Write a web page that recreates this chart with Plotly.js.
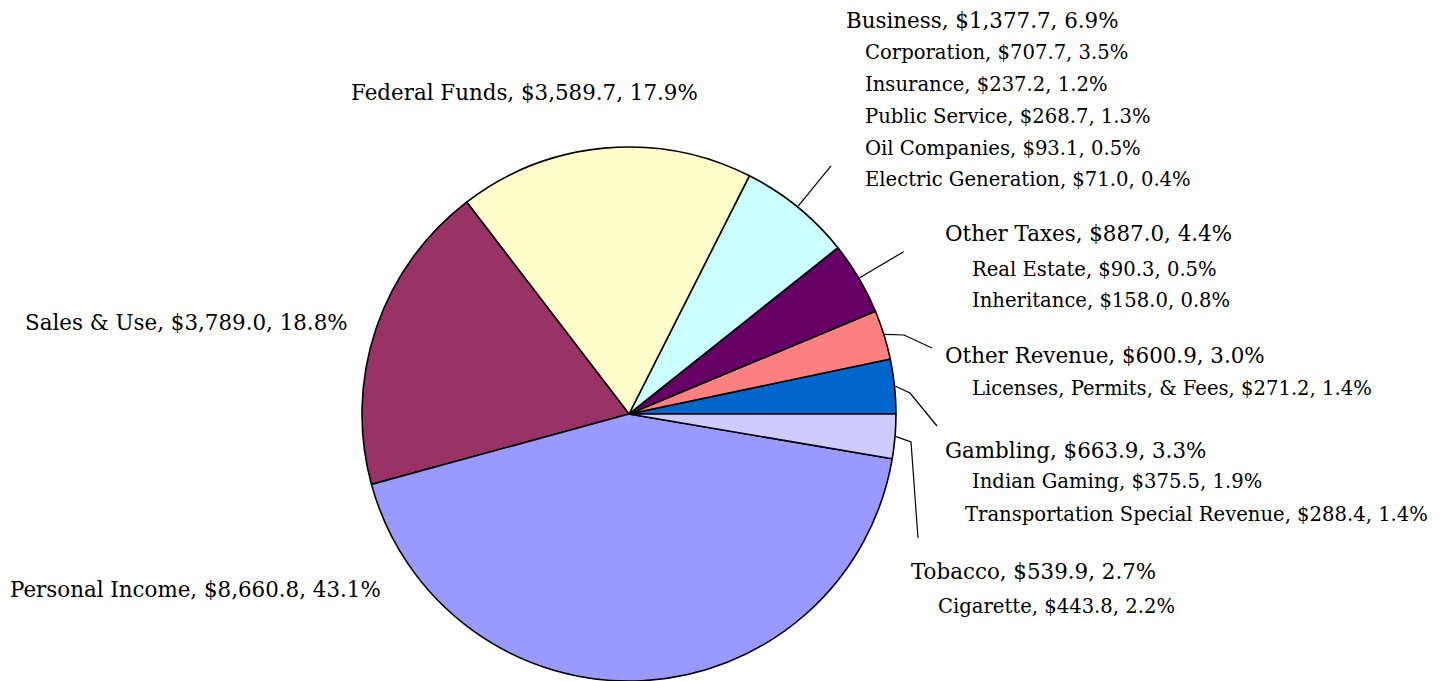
<!DOCTYPE html>
<html>
<head>
<meta charset="utf-8">
<script src="https://cdn.plot.ly/plotly-3.0.1.min.js"></script>
<style>html,body{margin:0;padding:0;background:#fff;}#chart{width:1445px;height:681px;}</style>
</head>
<body>
<div id="chart"></div>
<script>
// ---- data ----
const categories = ['Gambling','Other Revenue','Other Taxes','Business','Federal Funds','Sales & Use','Personal Income','Tobacco'];
const amounts = [663.9, 600.9, 887.0, 1377.7, 3589.7, 3789.0, 8660.8, 539.9];
const percents = ['3.3%','3.0%','4.4%','6.9%','17.9%','18.8%','43.1%','2.7%'];
const sliceColors = ['#0066CC','#FF8080','#660066','#CCFFFF','#FFFFCC','#993366','#9999FF','#CCCCFF'];

const subNames = ['Corporation','Insurance','Public Service','Oil Companies','Electric Generation',
  'Real Estate','Inheritance','Licenses, Permits, & Fees','Indian Gaming','Transportation Special Revenue','Cigarette'];
const subAmounts = [707.7, 237.2, 268.7, 93.1, 71.0, 90.3, 158.0, 271.2, 375.5, 288.4, 443.8];
const subPercents = ['3.5%','1.2%','1.3%','0.5%','0.4%','0.5%','0.8%','1.4%','1.9%','1.4%','2.2%'];

// ---- layout helpers ----
const W = 1445, H = 681;
const FONT = 'DejaVu Serif, Liberation Serif, serif';
const mainSize = 21.4, subSize = 19.6;
const px = x => x / W, py = y => 1 - y / H;
const money = v => '$' + v.toLocaleString('en-US', {minimumFractionDigits: 1, maximumFractionDigits: 1});
const mainText = i => categories[i] + ', ' + money(amounts[i]) + ', ' + percents[i];
const subText = j => subNames[j] + ', ' + money(subAmounts[j]) + ', ' + subPercents[j];

// pie geometry (domain in pixels)
const dom = {x0: 362, x1: 896, y0: 147, y1: 681};
const cx = (dom.x0 + dom.x1) / 2, cy = (dom.y0 + dom.y1) / 2;
const R = Math.min(dom.x1 - dom.x0, dom.y1 - dom.y0) / 2;

// mid angles of slices from the data (first slice starts at 3 o'clock, counterclockwise)
const total = amounts.reduce((a, b) => a + b, 0);
const midAngle = [];
let cum = 0;
amounts.forEach(v => { midAngle.push(2 * Math.PI * (cum + v / 2) / total); cum += v; });
const edgePt = (i, r) => [cx + r * Math.cos(midAngle[i]), cy - r * Math.sin(midAngle[i])];

// label placements: [category index, x, y]
const mainPos = [
  [3, 844, 20], [4, 349, 93], [2, 943, 233], [1, 943, 356], [0, 943, 450],
  [7, 909, 571], [5, 23, 322], [6, 8, 589]
];
const subPos = [
  [0, 863, 53], [1, 863, 85], [2, 863, 116], [3, 863, 148], [4, 863, 179],
  [5, 970, 269], [6, 970, 300], [7, 970, 388], [8, 970, 482], [9, 963, 514], [10, 936, 606]
];

const annotations = [];
mainPos.forEach(([i, x, y]) => annotations.push({
  text: mainText(i), x: px(x), y: py(y), xref: 'paper', yref: 'paper',
  xanchor: 'left', yanchor: 'middle', showarrow: false,
  font: {family: FONT, size: mainSize, color: '#000'}
}));
subPos.forEach(([j, x, y]) => annotations.push({
  text: subText(j), x: px(x), y: py(y), xref: 'paper', yref: 'paper',
  xanchor: 'left', yanchor: 'middle', showarrow: false,
  font: {family: FONT, size: subSize, color: '#000'}
}));

// leader lines
function pathOf(pts) {
  return pts.map((p, k) => (k ? 'L' : 'M') + px(p[0]).toFixed(5) + ',' + py(p[1]).toFixed(5)).join(' ');
}
const leaders = [
  [edgePt(3, R + 1), edgePt(3, R + 53)],
  [edgePt(2, R + 1), edgePt(2, R + 52)],
  [edgePt(1, R + 1), [904, 335], [932, 348]],
  [edgePt(0, R + 1), [910, 393], [937, 426]],
  [edgePt(7, R + 1), [911, 442], [918, 538]]
];
const shapes = leaders.map(pts => ({
  type: 'path', xref: 'paper', yref: 'paper', path: pathOf(pts),
  line: {color: '#000', width: 1.2}
}));

// Plotly's counterclockwise pies end the first slice at `rotation`, so shift by the first slice's angle
const rotation = 90 - 360 * amounts[0] / total;

const trace = {
  type: 'pie',
  labels: categories,
  values: amounts,
  marker: {colors: sliceColors, line: {color: '#000', width: 1.6}},
  sort: false,
  direction: 'counterclockwise',
  rotation: rotation,
  textinfo: 'none',
  hoverinfo: 'label+value+percent',
  domain: {x: [px(dom.x0), px(dom.x1)], y: [py(dom.y1), py(dom.y0)]}
};

Plotly.newPlot('chart', [trace], {
  width: W, height: H,
  margin: {l: 0, r: 0, t: 0, b: 0},
  showlegend: false,
  paper_bgcolor: '#fff',
  annotations: annotations,
  shapes: shapes
}, {displayModeBar: false, staticPlot: true});
</script>
</body>
</html>
